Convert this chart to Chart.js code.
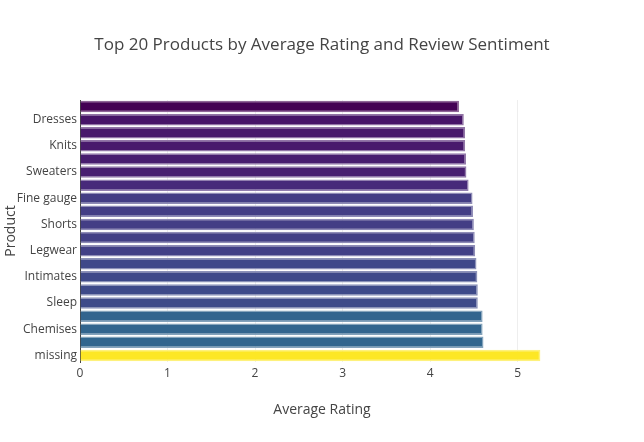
<!DOCTYPE html>
<html>
<head>
<meta charset="utf-8">
<script src="https://cdn.jsdelivr.net/npm/chart.js@4"></script>
<style>
  html, body { margin: 0; padding: 0; background: #fff; }
  #wrap { width: 644px; height: 442px; }
</style>
</head>
<body>
<div id="wrap"><canvas id="chart" width="644" height="442"></canvas></div>
<script>
'use strict';

// top to bottom, as drawn
var products = ['Trend', 'Dresses', 'Blouses', 'Knits', 'Jackets', 'Sweaters', 'Skirts', 'Fine gauge',
    'Pants', 'Shorts', 'Swim', 'Legwear', 'Lounge', 'Intimates', 'Outerwear', 'Sleep',
    'Jeans', 'Chemises', 'Layering', 'missing'];
var avgRating = [4.33, 4.385, 4.40, 4.40, 4.41, 4.415, 4.44, 4.485,
    4.49, 4.50, 4.51, 4.515, 4.53, 4.54, 4.545, 4.545,
    4.60, 4.60, 4.61, 5.26];
var sentimentColors = ['#440154', '#471568', '#48196b', '#481a6c', '#481d6f', '#481f70', '#472a7a', '#433d84',
    '#433e85', '#433e85', '#423f85', '#424086', '#3f4889', '#3e4989', '#3e4a89', '#3e4a89',
    '#32648e', '#32658e', '#31668e', '#fde725'];
var xTicks = [0, 1, 2, 3, 4, 5];

function lighten(hex, amt) {
    var n = parseInt(hex.slice(1), 16);
    var r = n >> 16, g = (n >> 8) & 255, b = n & 255;
    var mix = c => Math.round(c + (255 - c) * amt);
    return 'rgb(' + mix(r) + ',' + mix(g) + ',' + mix(b) + ')';
}

Chart.defaults.font.family = '"Open Sans", sans-serif';
Chart.defaults.color = '#444';

new Chart(document.getElementById('chart'), {
    type: 'bar',
    data: {
        labels: products,
        datasets: [{
            data: avgRating,
            backgroundColor: sentimentColors,
            borderColor: sentimentColors.map(c => lighten(c, 0.4)),
            borderWidth: 1.5,
            barPercentage: 0.88,
            categoryPercentage: 1
        }]
    },
    options: {
        indexAxis: 'y',
        responsive: false,
        animation: false,
        events: [],
        layout: { padding: 0 },
        plugins: {
            legend: { display: false },
            tooltip: { enabled: false },
            title: {
                display: true,
                text: 'Top 20 Products by Average Rating and Review Sentiment',
                font: { size: 17, weight: 'normal' },
                color: '#444',
                padding: { top: 35, bottom: 44.6 }
            }
        },
        scales: {
            x: {
                min: 0,
                max: 5.53,
                afterBuildTicks: scale => { scale.ticks = xTicks.map(v => ({ value: v })); },
                ticks: { font: { size: 12 }, color: '#444', padding: 4, maxRotation: 0 },
                grid: { color: '#eee', drawTicks: false },
                border: { display: false },
                title: {
                    display: true,
                    text: 'Average Rating',
                    font: { size: 14 },
                    color: '#444',
                    padding: { top: 0, bottom: 23.6 }
                },
                afterFit: scale => { scale.height = 80; }
            },
            y: {
                ticks: {
                    autoSkip: false,
                    font: { size: 12 },
                    color: '#444',
                    padding: 3,
                    callback: function (val, i) {
                        return i % 2 === 1 ? this.getLabelForValue(val) : '';
                    }
                },
                grid: { display: false, drawTicks: false },
                border: { display: true, color: '#444', width: 1 },
                title: {
                    display: true,
                    text: 'Product',
                    font: { size: 14 },
                    color: '#444',
                    padding: { top: 3, bottom: 0 }
                },
                afterFit: scale => { scale.width = 80; }
            },
            // empty right margin so the title stays centred on the page
            pad: {
                type: 'linear',
                axis: 'y',
                position: 'right',
                ticks: { display: false },
                grid: { display: false, drawTicks: false },
                border: { display: false },
                afterFit: scale => { scale.width = 80; }
            }
        }
    }
});
</script>
</body>
</html>
